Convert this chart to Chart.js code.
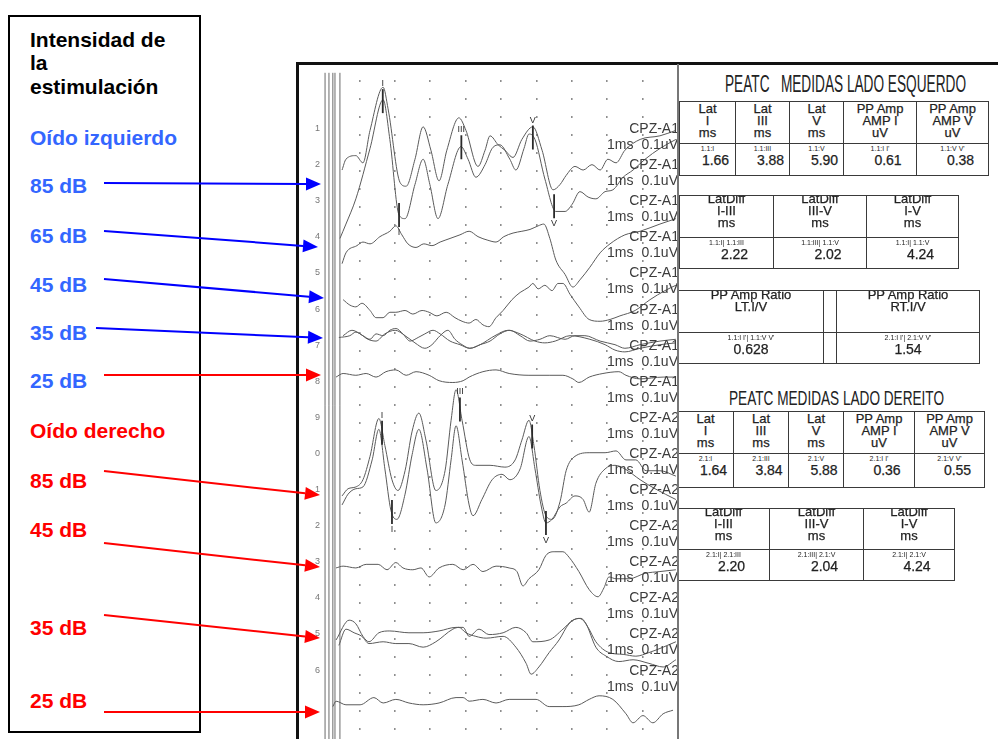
<!DOCTYPE html>
<html>
<head>
<meta charset="utf-8">
<script src="https://cdn.jsdelivr.net/npm/chart.js@4.4.1/dist/chart.umd.min.js"></script>
<style>
  body { margin: 0; background: #fff; }
  #page { position: relative; width: 998px; height: 739px; overflow: hidden; font-family: "Liberation Sans", Arial, sans-serif; }
  .box { position: absolute; left: 8px; top: 15px; width: 189px; height: 714px; border: 2px solid #000; }
  .lbl { position: absolute; left: 30px; font-size: 21px; line-height: 21px; font-weight: bold; white-space: nowrap; }
  .blk { color: #000; }
  .blue { color: #3366ff; }
  .red { color: #ff0000; }
  .panel { position: absolute; left: 296px; top: 62px; width: 720px; height: 700px; border-left: 3px solid #111; border-top: 3px solid #111; z-index: 4; pointer-events: none; }
  .divider { position: absolute; left: 677px; top: 64px; width: 1.5px; height: 680px; background: #777; z-index: 4; }
  #abr { position: absolute; left: 324px; top: 62px; z-index: 1; }
  .ch { position: absolute; font-size: 14px; line-height: 14px; color: #3c3c3c; white-space: nowrap; z-index: 2; }
  .num { position: absolute; left: 315px; font-size: 9px; line-height: 9px; color: #777; z-index: 2; }
  table.meas { position: absolute; border-collapse: collapse; table-layout: fixed; background: #fff; z-index: 3; color: #222; -webkit-text-stroke: 0.25px #222; }
  table.meas th, table.meas td { border: 1.5px solid #3a3a3a; padding: 0; vertical-align: top; text-align: center; overflow: hidden; }
  table.meas th { font-weight: normal; font-size: 13px; line-height: 12px; }
  .tag { font-size: 7px; line-height: 8px; margin-top: 1px; white-space: nowrap; -webkit-text-stroke: 0; }
  .val { font-size: 14px; line-height: 15px; }
  .title { position: absolute; white-space: pre; color: #222; z-index: 3; transform-origin: left top; font-family: "Liberation Sans Narrow", "Liberation Sans", Arial, sans-serif; }
  svg { position: absolute; left: 0; top: 0; z-index: 5; }
</style>
</head>
<body>
<div id="page">
  <div class="box"></div>
  <div class="lbl blk" style="top:29px">Intensidad de</div>
  <div class="lbl blk" style="top:52px">la</div>
  <div class="lbl blk" style="top:76px">estimulación</div>
  <div class="lbl blue" style="top:127px">Oído izquierdo</div>
  <div class="lbl blue" style="top:175px">85 dB</div>
  <div class="lbl blue" style="top:225px">65 dB</div>
  <div class="lbl blue" style="top:274px">45 dB</div>
  <div class="lbl blue" style="top:322px">35 dB</div>
  <div class="lbl blue" style="top:370px">25 dB</div>
  <div class="lbl red" style="top:420px">Oído derecho</div>
  <div class="lbl red" style="top:470px">85 dB</div>
  <div class="lbl red" style="top:519px">45 dB</div>
  <div class="lbl red" style="top:617px">35 dB</div>
  <div class="lbl red" style="top:690px">25 dB</div>

  <canvas id="abr" width="354" height="677"></canvas>
  <div class="panel"></div>
  <div class="divider"></div>
  <div class="title" id="t1" style="left:725px;top:72px;font-size:24px;line-height:24px" data-w="241">PEATC   MEDIDAS LADO ESQUERDO</div>
  <div class="title" id="t2" style="left:729px;top:387px;font-size:21px;line-height:21px" data-w="215">PEATC MEDIDAS LADO DEREITO</div>
  <svg id="arrows" width="998" height="739"></svg>
</div>
<script>
// latency in ms, amplitude in uV relative to each trace's own resting level
const leftEar85a = [[0.51,-0.03],[0.62,0.03],[0.90,0.05],[1.10,0.01],[1.30,0.19],[1.67,0.43],[1.81,0.31],[2.15,-0.10],[2.32,-0.12],[2.57,0.03],[2.80,0.21],[3.02,0.08],[3.25,-0.09],[3.47,0.08],[3.81,0.26],[4.01,0.19],[4.35,-0.01],[4.55,0.08],[4.69,0.16],[4.92,0.11],[5.11,0.08],[5.34,0.04],[5.59,0.14],[5.90,0.21],[6.16,0.08],[6.47,-0.14],[6.67,-0.11],[6.84,-0.06],[7.09,-0.01],[7.32,-0.03],[7.57,0],[7.80,-0.03],[8.02,0.03],[8.25,0.01],[8.50,0.08],[8.93,0.14],[9.49,0.16],[9.94,0.19]];
const leftEar85b = [[0.45,-0.19],[0.62,-0.11],[0.90,0.03],[1.30,0.31],[1.67,0.58],[1.86,0.36],[2.12,-0.06],[2.29,-0.08],[2.57,0.11],[2.80,0.25],[2.99,0.11],[3.22,-0.08],[3.50,0.11],[3.87,0.32],[4.07,0.25],[4.29,0.15],[4.55,0.22],[4.75,0.31],[4.97,0.33],[5.25,0.25],[5.42,0.19],[5.65,0.31],[5.79,0.39],[5.96,0.36],[6.24,0.14],[6.55,-0.04],[6.81,-0.04],[7.01,0],[7.23,0.07],[7.46,0.04],[7.68,0.03],[7.94,0.07],[8.16,0.08],[8.45,0.15],[8.73,0.19],[9.07,0.25],[9.49,0.31],[9.94,0.36]];
const leftEar65 = [[0.51,-0.08],[0.62,-0.02],[0.93,0.02],[1.10,0.04],[1.30,0.03],[1.58,0.07],[1.86,0.10],[2.03,0.13],[2.20,0.08],[2.37,0.03],[2.60,0.01],[2.82,0.03],[3.05,0.02],[3.28,0.04],[3.56,0.06],[3.84,0.08],[4.10,0.10],[4.35,0.07],[4.63,0.05],[4.86,0.04],[5.08,0.07],[5.34,0.09],[5.59,0.10],[5.82,0.11],[6.05,0.13],[6.21,0.14],[6.38,0.06],[6.55,-0.06],[6.81,-0.14],[7.03,-0.21],[7.23,-0.17],[7.51,-0.10],[7.80,-0.02],[8.08,0.03],[8.50,0.08],[8.93,0.10],[9.49,0.14],[9.94,0.17]];
const leftEar45 = [[0.54,0.03],[0.73,0],[0.90,-0.01],[1.07,0.01],[1.30,-0.03],[1.47,-0.07],[1.67,-0.07],[1.86,-0.04],[2.03,-0.04],[2.29,-0.03],[2.51,-0.05],[2.77,-0.03],[2.97,-0.04],[3.19,-0.06],[3.45,-0.04],[3.70,-0.07],[3.90,-0.09],[4.10,-0.10],[4.29,-0.08],[4.49,-0.11],[4.66,-0.12],[4.86,-0.07],[5.06,-0.03],[5.31,0.03],[5.54,0.07],[5.79,0.10],[5.90,0.12],[6.05,0.09],[6.24,0.11],[6.44,0.08],[6.61,0.12],[6.75,0.12],[6.95,0.06],[7.20,-0.01],[7.49,-0.08],[7.80,-0.09],[8.08,-0.08],[8.36,-0.06],[8.79,-0.03],[9.21,0.03],[9.63,0.08],[9.94,0.11]];
const leftEar35a = [[0.42,0],[0.73,0.01],[0.90,0.03],[1.10,0.01],[1.30,-0.01],[1.47,0.02],[1.67,0.01],[1.86,0.04],[2.03,0.05],[2.23,0.02],[2.43,-0.02],[2.66,0],[2.85,0.02],[3.08,0.04],[3.28,0.02],[3.56,-0.02],[3.84,-0.04],[4.12,-0.06],[4.41,-0.04],[4.69,-0.02],[4.97,0.02],[5.25,0.04],[5.54,0.01],[5.82,-0.02],[6.10,-0.01],[6.38,0.01],[6.81,-0.01],[7.09,0.01],[7.37,0.01],[7.80,-0.02],[8.22,-0.04],[8.50,-0.06],[8.93,-0.04],[9.49,-0.02],[9.94,-0.01]];
const leftEar35b = [[0.54,0.01],[0.79,0.04],[1.02,0.02],[1.24,-0.01],[1.47,-0.02],[1.72,0.02],[2.01,0.04],[2.29,0.01],[2.57,-0.03],[2.85,-0.06],[3.05,-0.04],[3.28,0.01],[3.50,0.04],[3.70,-0.01],[3.90,-0.04],[4.12,-0.06],[4.41,-0.04],[4.83,0.01],[5.20,0.04],[5.54,0.02],[5.96,-0.02],[6.24,-0.03],[6.53,-0.02],[6.95,0.01],[7.51,-0.01],[7.94,-0.04],[8.22,-0.07],[8.50,-0.08],[8.93,-0.06],[9.49,-0.04],[9.94,-0.03]];
const leftEar25 = [[0.34,-0.01],[0.54,0.01],[0.90,0],[1.19,0.01],[1.47,-0.01],[1.75,0.02],[2.03,0.03],[2.32,0],[2.60,0.02],[2.97,0],[3.25,-0.03],[3.64,-0.04],[3.93,-0.03],[4.10,-0.01],[4.49,0.02],[4.86,0.03],[5.23,0.01],[5.79,0],[6.36,0],[6.75,0],[7.03,-0.02],[7.20,-0.04],[7.49,-0.01],[7.88,0.01],[8.33,0.02],[8.53,0],[8.93,-0.02],[9.58,-0.01],[9.94,-0.01]];
const rightEar85a = [[0.51,-0.03],[0.68,0.01],[0.90,0.02],[1.10,0.06],[1.30,0.19],[1.55,0.40],[1.72,0.25],[1.92,0.06],[2.09,0],[2.29,0.11],[2.49,0.33],[2.68,0.43],[2.88,0.28],[3.16,0],[3.42,0.11],[3.59,0.39],[3.73,0.56],[3.90,0.39],[4.12,0.17],[4.29,0.14],[4.69,0.14],[5.11,0.13],[5.40,0.17],[5.59,0.28],[5.79,0.39],[5.93,0.25],[6.10,0],[6.27,-0.14],[6.44,-0.16],[6.67,-0.06],[6.84,0.11],[7.09,0.19],[7.51,0.21],[7.94,0.21],[8.25,0.22],[8.53,0.17],[8.81,0.17],[9.10,0.11],[9.49,0.11],[9.94,0.08]];
const rightEar85b = [[0.51,-0.03],[0.68,0.03],[0.90,0.06],[1.10,0.07],[1.36,0.22],[1.55,0.39],[1.72,0.17],[1.89,-0.06],[2.06,-0.11],[2.29,0.03],[2.49,0.25],[2.68,0.39],[2.91,0.17],[3.16,-0.13],[3.42,-0.03],[3.59,0.22],[3.73,0.41],[3.90,0.22],[4.10,-0.03],[4.21,-0.09],[4.46,0],[4.75,0.11],[5.03,0.14],[5.25,0.11],[5.54,0.17],[5.79,0.35],[5.96,0.17],[6.13,-0.03],[6.27,-0.13],[6.44,-0.11],[6.67,-0.04],[6.84,-0.02],[7.09,0.02],[7.32,0],[7.49,-0.07],[7.68,0.09],[7.94,0.17],[8.22,0.19],[8.50,0.17],[8.93,0.11],[9.35,0.06],[9.94,0]];
const rightEar45 = [[0.34,-0.01],[0.54,0],[0.90,-0.01],[1.19,0.01],[1.53,0.01],[1.78,-0.02],[2.03,0.02],[2.23,-0.01],[2.51,-0.02],[2.74,-0.01],[2.97,-0.06],[3.25,-0.01],[3.64,0.01],[3.93,-0.02],[4.21,0.01],[4.49,-0.03],[4.86,0],[5.23,-0.01],[5.45,-0.03],[5.62,-0.11],[5.79,-0.07],[6.07,-0.02],[6.27,0.06],[6.50,0.08],[6.75,0.08],[6.92,0.05],[7.20,-0.03],[7.49,-0.13],[7.74,-0.17],[7.91,-0.12],[8.05,-0.06],[8.25,-0.07],[8.62,-0.07],[9.07,-0.04],[9.49,-0.03],[9.94,-0.02]];
const rightEar35a = [[0.34,-0.03],[0.71,0.08],[0.90,0.06],[1.10,-0.01],[1.27,-0.04],[1.55,0.01],[1.86,0.02],[2.40,0.01],[2.80,0.01],[3.25,0.02],[3.73,0.04],[3.93,0.04],[4.10,-0.01],[4.38,0.03],[4.66,0],[5.06,0.01],[5.42,0.04],[5.71,0.01],[5.90,-0.04],[6.36,-0.03],[6.75,0.03],[7.03,0.08],[7.26,0.09],[7.46,0.04],[7.68,-0.04],[8.05,-0.10],[8.45,-0.11],[8.81,-0.12],[9.18,-0.10],[9.58,-0.07],[9.94,-0.04]];
const rightEar35b = [[0.42,-0.03],[0.62,0.06],[0.85,0.04],[1.07,0.02],[1.27,-0.02],[1.67,-0.01],[2.03,-0.02],[2.40,-0.02],[2.80,-0.04],[3.16,-0.01],[3.64,0.06],[3.81,0.07],[4.01,0.04],[4.29,0.02],[4.58,0.01],[5.06,0.02],[5.42,-0.04],[5.71,-0.13],[5.85,-0.19],[6.07,-0.15],[6.36,-0.07],[6.64,0],[6.92,0.09],[7.20,0.12],[7.40,0.09],[7.68,-0.04],[7.97,-0.09],[8.33,-0.12],[8.73,-0.11],[9.18,-0.13],[9.58,-0.15],[9.94,-0.11]];
const rightEar25 = [[0.25,-0.02],[0.34,0.01],[0.62,-0.01],[1.02,-0.01],[1.41,0.03],[1.67,0],[2.03,0.02],[2.40,0],[2.80,-0.01],[3.25,0],[3.73,0.03],[3.93,0.03],[4.10,0.01],[4.49,0.02],[4.86,0],[5.23,0.02],[5.99,0.02],[6.36,-0.02],[6.75,-0.02],[7.20,-0.01],[7.49,0.02],[7.77,0.04],[8.16,0.02],[8.53,-0.06],[8.73,-0.11],[9.01,-0.07],[9.29,-0.11],[9.58,-0.06],[9.86,-0.04]];

// stacked display: resting level of each trace on the page, in uV
const traceList = [leftEar85a, leftEar85b, leftEar65, leftEar45, leftEar35a, leftEar35b, leftEar25,
                   rightEar85a, rightEar85b, rightEar45, rightEar35a, rightEar35b, rightEar25];
const traceOffsets = [3.19, 2.97, 2.72, 2.41, 2.23, 2.23, 2.02, 1.38, 1.33, 0.96, 0.58, 0.55, 0.20];

// stimulus artifact (ms) and its vertical span (uV)
const artifactTimes = [0.03, 0.14, 0.25, 0.31, 0.45];
const artifactSpan = [0, 3.70];

// peak labels
const peakNames = ['I', 'III', 'V'];
const troughNames = ['I', 'V'];
const leftPeakLat = [1.66, 3.88, 5.90];
const leftTroughLat = [2.12, 6.50];
const rightPeakLat = [1.64, 3.84, 5.88];
const rightTroughLat = [1.92, 6.27];

const channelNames = ['CPZ-A1','CPZ-A1','CPZ-A1','CPZ-A1','CPZ-A1','CPZ-A1','CPZ-A1','CPZ-A1',
                      'CPZ-A2','CPZ-A2','CPZ-A2','CPZ-A2','CPZ-A2','CPZ-A2','CPZ-A2','CPZ-A2'];
const calibration = ['1ms', '0.1uV'];

// measurement tables
const latHeads = [['Lat','I','ms'],['Lat','III','ms'],['Lat','V','ms'],['PP Amp','AMP I','uV'],['PP Amp','AMP V','uV']];
const diffHeads = [['LatDiff','I-III','ms'],['LatDiff','III-V','ms'],['LatDiff','I-V','ms']];
const ratioHeads = [['PP Amp Ratio','LT.I/V'], null, ['PP Amp Ratio','RT.I/V']];
const leftLatTags = ['1.1:I','1.1:III','1.1:V',"1.1:I I'","1.1:V V'"];
const leftLatValues = [1.66, 3.88, 5.90, 0.61, 0.38];
const leftDiffTags = ['1.1:I| 1.1:III','1.1:III| 1.1:V','1.1:I| 1.1:V'];
const leftDiffValues = [2.22, 2.02, 4.24];
const ratioTags = ["1.1:I I'| 1.1:V V'", null, "2.1:I I'| 2.1:V V'"];
const ratioValues = [0.628, null, 1.54];
const rightLatTags = ['2.1:I','2.1:III','2.1:V',"2.1:I I'","2.1:V V'"];
const rightLatValues = [1.64, 3.84, 5.88, 0.36, 0.55];
const rightDiffTags = ['2.1:I| 2.1:III','2.1:III| 2.1:V','2.1:I| 2.1:V'];
const rightDiffValues = [2.20, 2.04, 4.24];

const page = document.getElementById('page');

// ---- waveforms ----
const datasets = traceList.map((pts, i) => ({
  data: pts.map(p => ({ x: p[0], y: traceOffsets[i] + p[1] })),
  borderColor: '#5a5a5a',
  borderWidth: 1,
  cubicInterpolationMode: 'monotone'
}));
artifactTimes.forEach(t => {
  datasets.push({
    data: artifactSpan.map(v => ({ x: t, y: v })),
    borderColor: '#6a6a6a',
    borderWidth: 1,
    tension: 0
  });
});

const markers = [];
leftPeakLat.forEach((t, i) => markers.push({ ds: 1, t: t, label: peakNames[i], up: true }));
leftTroughLat.forEach((t, i) => markers.push({ ds: 1, t: t, label: troughNames[i], up: false }));
rightPeakLat.forEach((t, i) => markers.push({ ds: 7, t: t, label: peakNames[i], up: true }));
rightTroughLat.forEach((t, i) => markers.push({ ds: 8, t: t, label: troughNames[i], up: false }));

function valueAt(pts, t) {
  for (let i = 1; i < pts.length; i++) {
    if (pts[i].x >= t) {
      const a = pts[i - 1], b = pts[i];
      return a.y + (b.y - a.y) * (t - a.x) / (b.x - a.x);
    }
  }
  return pts[pts.length - 1].y;
}

const peakMarks = {
  id: 'peakMarks',
  afterDatasetsDraw(chart) {
    const ctx = chart.ctx;
    const xs = chart.scales.x, ys = chart.scales.y;
    ctx.save();
    ctx.strokeStyle = '#2a2a2a';
    ctx.fillStyle = '#2a2a2a';
    ctx.lineWidth = 1.8;
    ctx.font = '9px "Liberation Sans", Arial';
    ctx.textAlign = 'center';
    markers.forEach(m => {
      const v = valueAt(chart.data.datasets[m.ds].data, m.t);
      const px = xs.getPixelForValue(m.t), py = ys.getPixelForValue(v);
      ctx.beginPath();
      ctx.moveTo(px, py - 12);
      ctx.lineTo(px, py + 12);
      ctx.stroke();
      if (m.up) {
        ctx.textBaseline = 'bottom';
        ctx.fillText(m.label, px, py - 13);
      } else {
        ctx.textBaseline = 'top';
        ctx.fillText(m.label, px, py + 13);
      }
    });
    ctx.restore();
  }
};

new Chart(document.getElementById('abr'), {
  type: 'line',
  data: { datasets: datasets },
  options: {
    responsive: false,
    animation: false,
    events: [],
    layout: { padding: 0 },
    plugins: { legend: { display: false }, tooltip: { enabled: false } },
    elements: { point: { radius: 0 } },
    scales: {
      x: {
        type: 'linear', min: 0, max: 10,
        ticks: { display: false, stepSize: 1 },
        grid: {
          drawTicks: false,
          lineWidth: 1.6,
          color: c => (c.tick && c.tick.value > 0 && c.tick.value < 10) ? '#6a6a6a' : 'rgba(0,0,0,0)'
        },
        border: { display: false, dash: [1.6, 16.4], dashOffset: 17.8 }
      },
      y: { display: false, min: 0, max: 3.76 }
    }
  },
  plugins: [peakMarks]
});

// ---- channel labels ----
channelNames.forEach((name, i) => {
  const top = 121 + 36.1 * i;
  const a = document.createElement('div');
  a.className = 'ch';
  a.style.right = '319px';
  a.style.top = top + 'px';
  a.textContent = name;
  page.appendChild(a);
  const b = document.createElement('div');
  b.className = 'ch';
  b.style.left = '607px';
  b.style.top = (top + 16) + 'px';
  b.textContent = calibration[0];
  page.appendChild(b);
  const c = document.createElement('div');
  c.className = 'ch';
  c.style.right = '320px';
  c.style.top = (top + 16) + 'px';
  c.textContent = calibration[1];
  page.appendChild(c);
  const n = document.createElement('div');
  n.className = 'num';
  n.style.top = (top + 3) + 'px';
  n.textContent = String(i + 1).slice(-1);
  page.appendChild(n);
});

// ---- tables ----
function buildTable(left, top, widths, headH, bodyH, heads, tags, vals, digits, headShift, valPad) {
  const t = document.createElement('table');
  t.className = 'meas';
  t.style.left = left + 'px';
  t.style.top = top + 'px';
  t.style.width = widths.reduce((s, w) => s + w, 0) + 'px';
  let h = '<colgroup>' + widths.map(w => '<col style="width:' + w + 'px">').join('') + '</colgroup>';
  h += '<tr style="height:' + headH + 'px">' + heads.map(c =>
    '<th>' + (c ? '<div style="margin-top:' + headShift + 'px">' + c.join('<br>') + '</div>' : '') + '</th>').join('') + '</tr>';
  h += '<tr style="height:' + bodyH + 'px">' + vals.map((v, i) => v == null ? '<td></td>' :
    '<td><div class="tag">' + tags[i] + '</div><div class="val" style="padding-left:' + valPad + 'px">' + v.toFixed(digits[i]) + '</div></td>').join('') + '</tr>';
  t.innerHTML = h;
  page.appendChild(t);
}
buildTable(679, 101, [56, 54, 54, 73, 72], 42, 32, latHeads, leftLatTags, leftLatValues, [2, 2, 2, 2, 2], 1, 16);
buildTable(679, 195, [94, 93, 92], 42, 31, diffHeads, leftDiffTags, leftDiffValues, [2, 2, 2], -3, 16);
buildTable(678, 290, [145, 13, 143], 42, 31, ratioHeads, ratioTags, ratioValues, [3, 0, 2], -2, 0);
buildTable(677, 411, [56, 55, 55, 71, 70], 42, 34, latHeads, rightLatTags, rightLatValues, [2, 2, 2, 2, 2], 1, 16);
buildTable(677, 508, [92, 94, 91], 41, 31, diffHeads, rightDiffTags, rightDiffValues, [2, 2, 2], -3, 16);

// fit the squeezed titles
document.querySelectorAll('.title').forEach(el => {
  const w = el.getBoundingClientRect().width;
  el.style.transform = 'scaleX(' + (Number(el.dataset.w) / w) + ')';
});

// ---- arrows from the intensity labels to the traces ----
const arrows = [
  { from: [104, 183], to: [321, 184], color: '#0000ff' },
  { from: [104, 231], to: [318, 247], color: '#0000ff' },
  { from: [104, 279], to: [324, 298], color: '#0000ff' },
  { from: [96, 328], to: [323, 338], color: '#0000ff' },
  { from: [104, 375], to: [321, 375], color: '#ff0000' },
  { from: [104, 471], to: [320, 495], color: '#ff0000' },
  { from: [104, 543], to: [320, 567], color: '#ff0000' },
  { from: [104, 615], to: [320, 638], color: '#ff0000' },
  { from: [104, 712], to: [320, 712], color: '#ff0000' }
];
const svg = document.getElementById('arrows');
let s = '';
arrows.forEach(a => {
  const [x1, y1] = a.from, [x2, y2] = a.to;
  const len = Math.hypot(x2 - x1, y2 - y1);
  const ux = (x2 - x1) / len, uy = (y2 - y1) / len;
  const hl = 15, hw = 6.5;
  const bx = x2 - ux * hl, by = y2 - uy * hl;
  s += '<line x1="' + x1 + '" y1="' + y1 + '" x2="' + bx + '" y2="' + by + '" stroke="' + a.color + '" stroke-width="2"/>';
  s += '<polygon points="' + x2 + ',' + y2 + ' ' + (bx - uy * hw) + ',' + (by + ux * hw) + ' ' + (bx + uy * hw) + ',' + (by - ux * hw) + '" fill="' + a.color + '"/>';
});
svg.innerHTML = s;
</script>
</body>
</html>
